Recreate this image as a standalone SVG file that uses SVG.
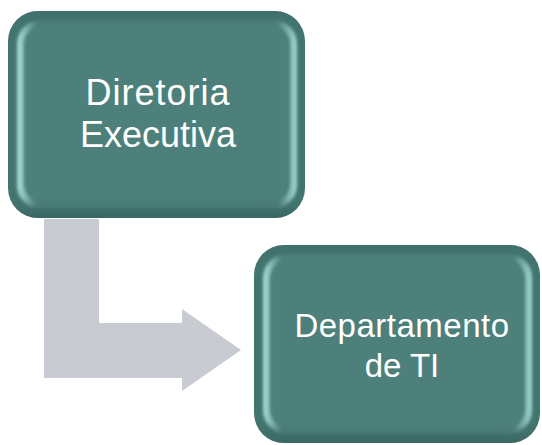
<svg xmlns="http://www.w3.org/2000/svg" width="542" height="445" viewBox="0 0 542 445">
<style>
.lbl{font-family:"Liberation Sans",Arial,sans-serif;fill:#ffffff;text-anchor:middle}
.big{font-size:36px}
.small{font-size:33px}
.outer{fill:#437570}
.face{fill:#4e807a}
</style>
<defs>
<linearGradient id="rim" x1="0" y1="0" x2="1" y2="0">
<stop offset="0" stop-color="#a6e0d8"/>
<stop offset="0.07" stop-color="#4e807a"/>
<stop offset="0.93" stop-color="#4e807a"/>
<stop offset="1" stop-color="#9ed8d0"/>
</linearGradient>
<linearGradient id="rimv" x1="0" y1="0" x2="0" y2="1">
<stop offset="0" stop-color="#2f5a54" stop-opacity="0.25"/>
<stop offset="0.08" stop-color="#3d6c66" stop-opacity="0"/>
<stop offset="0.9" stop-color="#3d6c66" stop-opacity="0"/>
<stop offset="1" stop-color="#2f5a54" stop-opacity="0.5"/>
</linearGradient>
<filter id="soft" x="-5%" y="-5%" width="110%" height="110%"><feGaussianBlur stdDeviation="1.8"/></filter>
</defs>
<g id="connectors">
<path d="M44 219 H99 V323 H182 V309 L241 350 L182 391 V378 H44 Z" fill="#c8ccd2"/>
</g>
<g id="node1">
<rect class="outer" x="8" y="11" width="297" height="207" rx="30"/>
<rect x="17" y="20" width="280" height="189" rx="24" fill="url(#rim)" filter="url(#soft)"/>
<rect class="face" x="24" y="25" width="266" height="178" rx="20" filter="url(#soft)"/>
<rect x="8" y="11" width="297" height="207" rx="30" fill="url(#rimv)"/>
<text class="lbl big" x="158" y="105" letter-spacing="1">Diretoria</text>
<text class="lbl big" x="158" y="147">Executiva</text>
</g>
<g id="node2">
<rect class="outer" x="254" y="245" width="286" height="198" rx="30"/>
<rect x="263" y="254" width="269" height="180" rx="24" fill="url(#rim)" filter="url(#soft)"/>
<rect class="face" x="270" y="259" width="255" height="170" rx="20" filter="url(#soft)"/>
<rect x="254" y="245" width="286" height="198" rx="30" fill="url(#rimv)"/>
<text class="lbl small" x="402" y="337" letter-spacing="0.5">Departamento</text>
<text class="lbl small" x="402" y="377">de TI</text>
</g>
</svg>
